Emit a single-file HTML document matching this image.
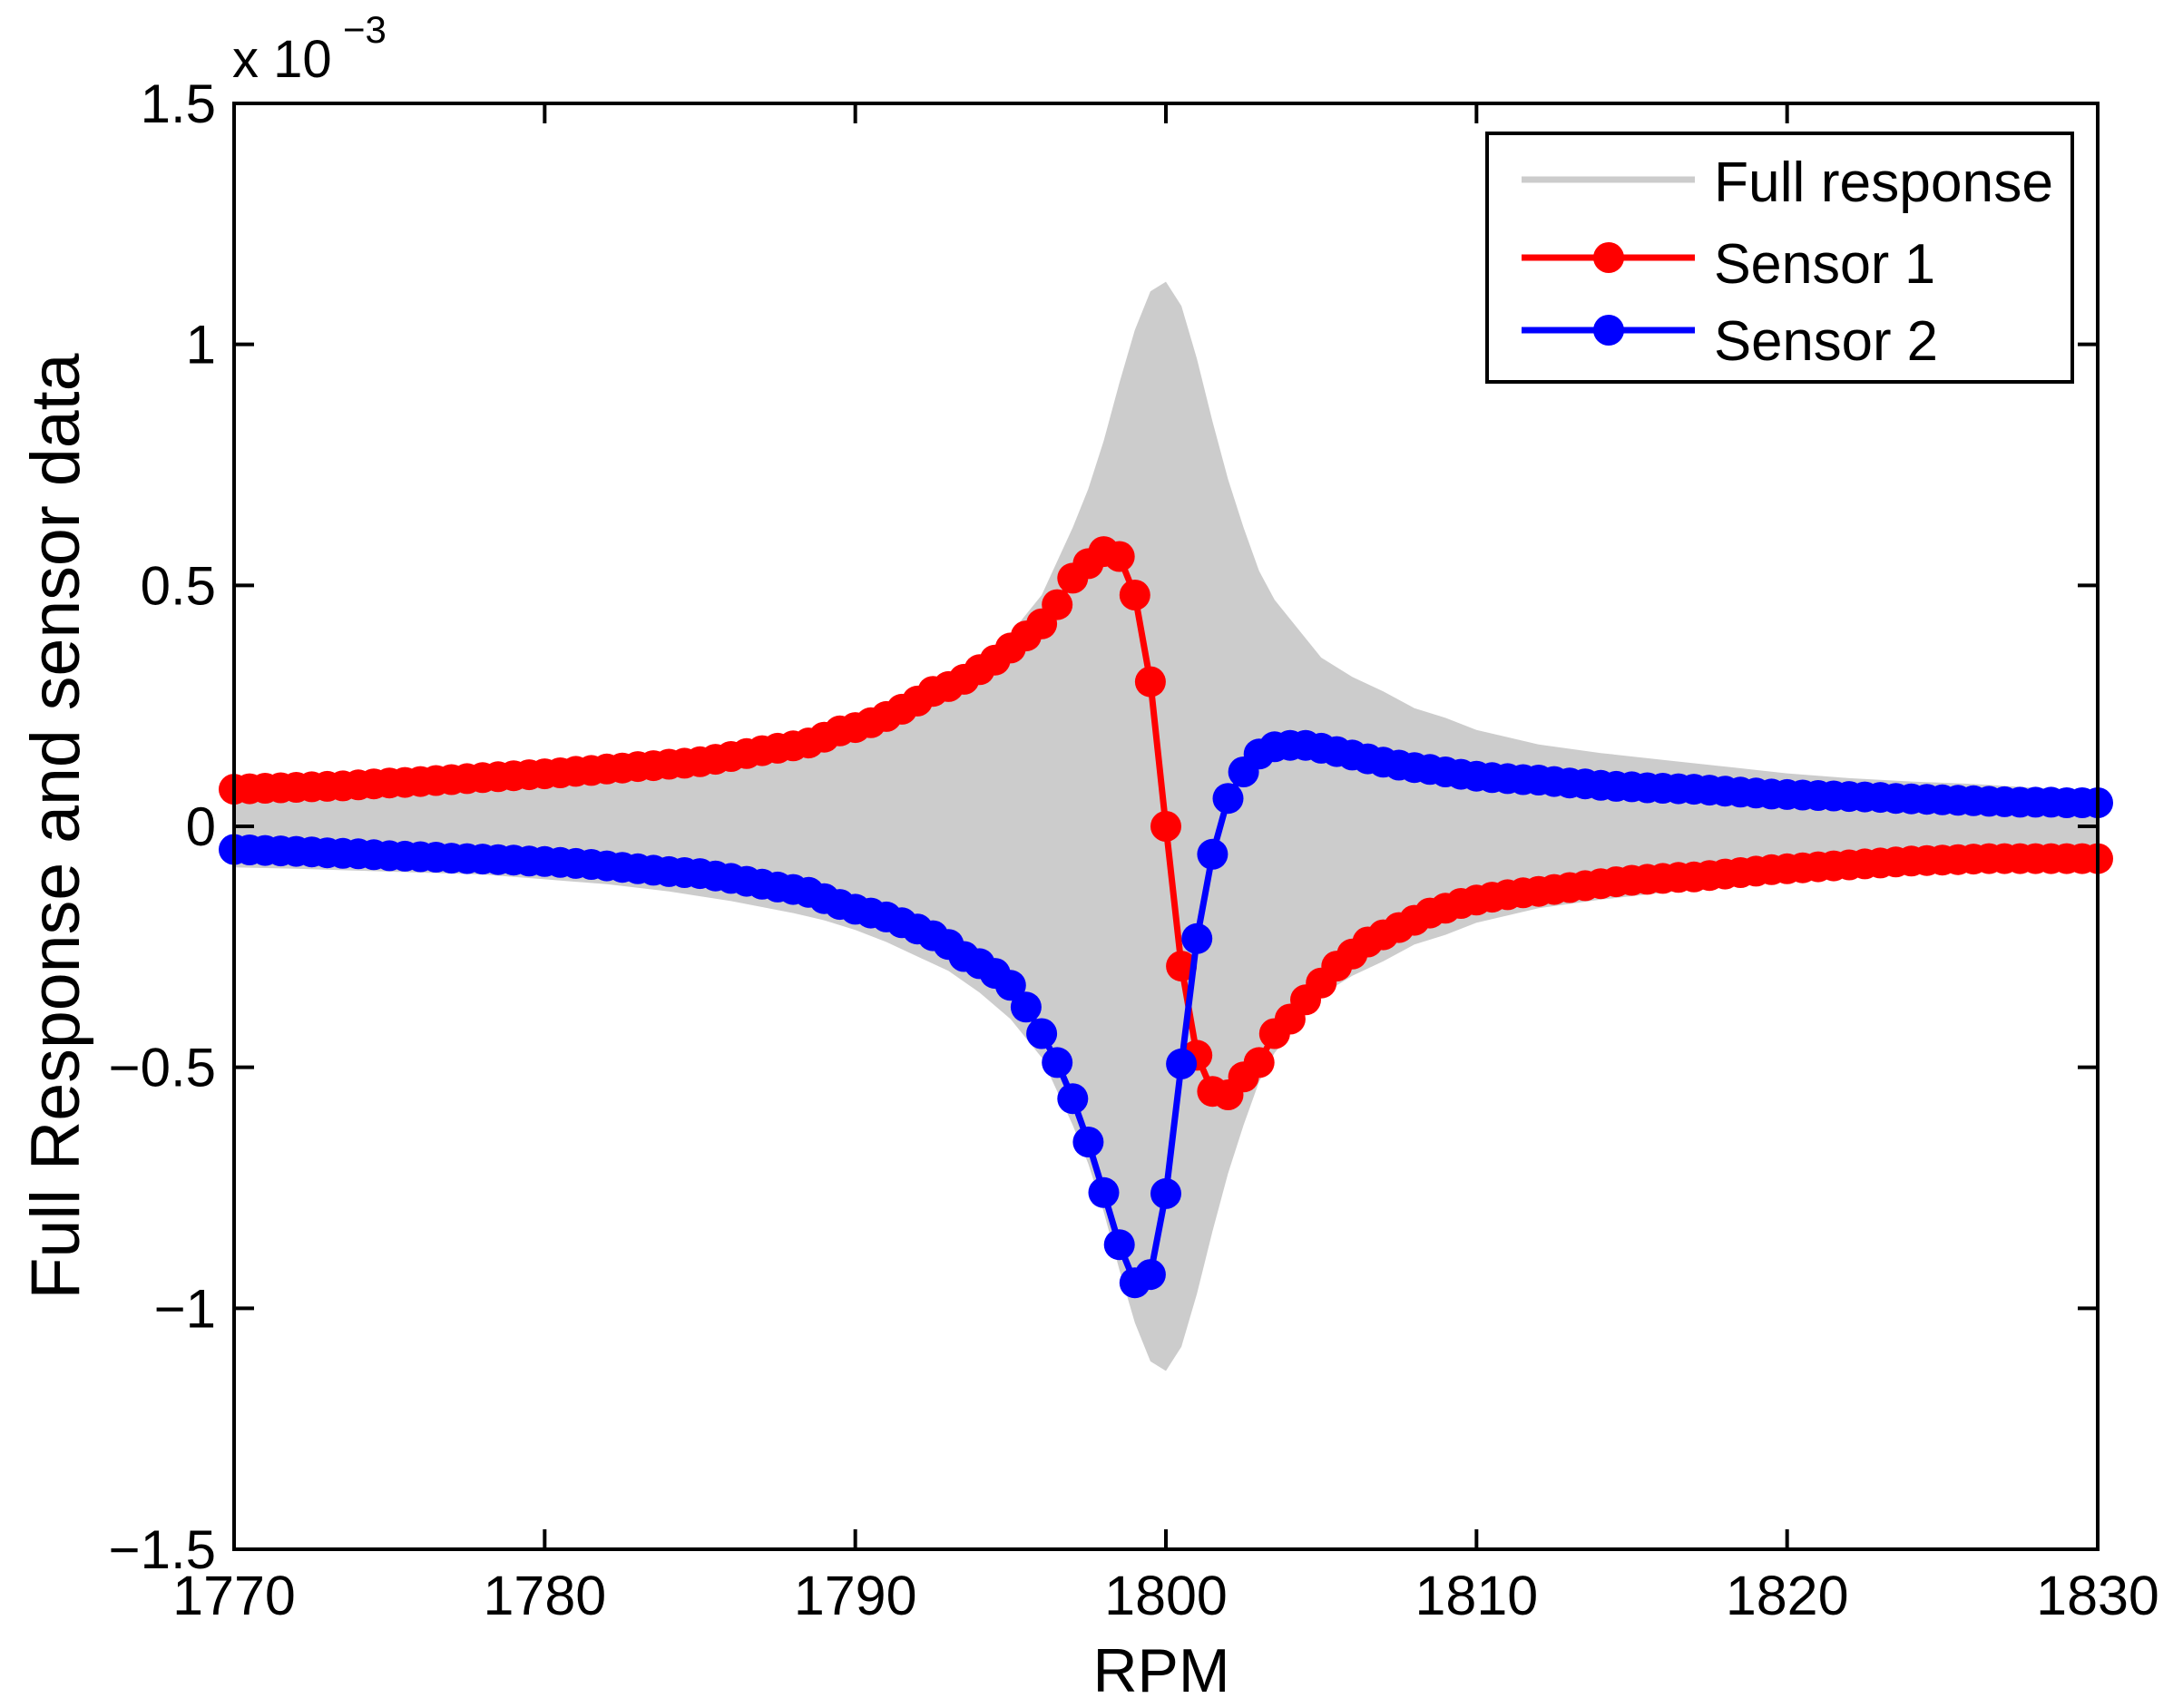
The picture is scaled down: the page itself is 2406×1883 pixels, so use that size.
<!DOCTYPE html>
<html><head><meta charset="utf-8">
<style>
html,body{margin:0;padding:0;background:#fff;}
svg{display:block;}
text{font-family:"Liberation Sans",Arial,sans-serif;fill:#000;}
</style></head>
<body>
<svg id="chart" width="2406" height="1883" viewBox="0 0 2406 1883" xmlns="http://www.w3.org/2000/svg">
  <rect x="0" y="0" width="2406" height="1883" fill="#fff"/>
  <g id="plot"></g>
  <g id="axes"></g>
  <text x="1280" y="1865" font-size="68" text-anchor="middle">RPM</text>
  <text transform="translate(87,911) rotate(-90)" font-size="76" text-anchor="middle" textLength="1043" lengthAdjust="spacingAndGlyphs">Full Response and sensor data</text>
  <g>
    <text x="256" y="85" font-size="58">x 10</text>
    <text x="378" y="47" font-size="42">−3</text>
  </g>
  <g>
    <rect x="1639" y="147" width="645" height="274" fill="#fff" stroke="#000" stroke-width="4"/>
    <g>
      <line x1="1677" y1="198" x2="1868" y2="198" stroke="#cccccc" stroke-width="7"/>
      <text x="1889" y="222" font-size="62" textLength="374" lengthAdjust="spacingAndGlyphs">Full response</text>
    </g>
    <g>
      <line x1="1677" y1="284" x2="1868" y2="284" stroke="#ff0000" stroke-width="7"/>
      <circle cx="1773" cy="284" r="17" fill="#ff0000"/>
      <text x="1889" y="312" font-size="62" textLength="244" lengthAdjust="spacingAndGlyphs">Sensor 1</text>
    </g>
    <g>
      <line x1="1677" y1="364" x2="1868" y2="364" stroke="#0000ff" stroke-width="7"/>
      <circle cx="1773" cy="364" r="17" fill="#0000ff"/>
      <text x="1889" y="397" font-size="62" textLength="247" lengthAdjust="spacingAndGlyphs">Sensor 2</text>
    </g>
  </g>
</svg>
<script>
// ---- data (values in units of 1e-3) ----
const rpmStart = 1770;
const rpmStep = 0.5;
const sensor1 = [
0.077,0.078,0.079,0.080,0.081,0.082,0.083,0.084,0.086,0.088,
0.090,0.091,0.093,0.095,0.097,0.099,0.101,0.103,0.105,0.107,
0.109,0.111,0.114,0.116,0.119,0.121,0.124,0.126,0.129,0.131,
0.134,0.139,0.145,0.151,0.157,0.162,0.167,0.173,0.185,0.198,
0.205,0.215,0.228,0.243,0.260,0.280,0.290,0.305,0.325,0.345,
0.370,0.395,0.420,0.460,0.515,0.545,0.570,0.560,0.480,0.300,
0.000,-0.290,-0.475,-0.550,-0.557,-0.520,-0.490,-0.430,-0.400,-0.360,
-0.325,-0.290,-0.265,-0.240,-0.225,-0.210,-0.195,-0.180,-0.170,-0.160,
-0.153,-0.147,-0.142,-0.138,-0.135,-0.131,-0.127,-0.123,-0.119,-0.115,
-0.112,-0.110,-0.108,-0.106,-0.105,-0.102,-0.099,-0.096,-0.093,-0.090,
-0.088,-0.086,-0.084,-0.082,-0.080,-0.078,-0.076,-0.074,-0.072,-0.071,
-0.070,-0.069,-0.068,-0.067,-0.067,-0.067,-0.067,-0.067,-0.067,-0.067,
-0.067];
const sensor2 = [
-0.048,-0.049,-0.050,-0.051,-0.052,-0.053,-0.055,-0.056,-0.057,-0.059,
-0.061,-0.062,-0.063,-0.064,-0.066,-0.067,-0.068,-0.069,-0.070,-0.072,
-0.073,-0.075,-0.077,-0.079,-0.082,-0.085,-0.088,-0.091,-0.094,-0.096,
-0.098,-0.103,-0.108,-0.114,-0.120,-0.126,-0.131,-0.137,-0.150,-0.162,
-0.172,-0.180,-0.188,-0.200,-0.213,-0.227,-0.245,-0.270,-0.285,-0.305,
-0.330,-0.375,-0.430,-0.490,-0.565,-0.655,-0.760,-0.868,-0.947,-0.930,
-0.762,-0.493,-0.233,-0.058,0.058,0.113,0.150,0.165,0.168,0.168,
0.162,0.155,0.148,0.140,0.133,0.127,0.122,0.118,0.113,0.108,
0.104,0.101,0.099,0.097,0.096,0.093,0.090,0.088,0.085,0.083,
0.082,0.080,0.079,0.078,0.077,0.075,0.073,0.071,0.069,0.067,
0.066,0.065,0.064,0.063,0.062,0.061,0.060,0.058,0.057,0.056,
0.055,0.054,0.053,0.052,0.051,0.050,0.050,0.050,0.049,0.049,
0.049];
const envelopeRpm = [1770,1772,1774,1776,1778,1780,1782,1784,1786,1788,1789,1790,1791,1792,1793,1794,1795,1796,1797,1797.5,1798,1798.5,1799,1799.5,1800,1800.5,1801,1801.5,1802,1802.5,1803,1803.5,1804,1805,1806,1807,1808,1809,1810,1812,1814,1816,1818,1820,1822,1824,1826,1828,1830];
const envelopeAmp = [0.085,0.088,0.092,0.096,0.100,0.110,0.120,0.135,0.155,0.180,0.195,0.215,0.240,0.270,0.300,0.345,0.400,0.480,0.620,0.700,0.800,0.920,1.030,1.110,1.130,1.080,0.970,0.840,0.720,0.620,0.530,0.470,0.430,0.350,0.310,0.280,0.245,0.225,0.200,0.170,0.152,0.138,0.124,0.110,0.100,0.093,0.088,0.080,0.075];
const xTicks = [1770,1780,1790,1800,1810,1820,1830];
const xTickLabels = ["1770","1780","1790","1800","1810","1820","1830"];
const yTicks = [-1.5,-1,-0.5,0,0.5,1,1.5];
const yTickLabels = ["\u22121.5","\u22121","\u22120.5","0","0.5","1","1.5"];

// ---- axes geometry ----
const L=258, R=2312, T=114, B=1708;
const xMin=1770, xMax=1830, yMin=-1.5, yMax=1.5;
function xs(v){return L+(v-xMin)/(xMax-xMin)*(R-L);}
function ys(v){return B-(v-yMin)/(yMax-yMin)*(B-T);}
const NS="http://www.w3.org/2000/svg";
function mk(tag,attrs,parent){const e=document.createElementNS(NS,tag);for(const k in attrs)e.setAttribute(k,attrs[k]);parent.appendChild(e);return e;}
const plotG=document.getElementById('plot');
const axesG=document.getElementById('axes');

// full response envelope
const envTopPts=[], envBotPts=[];
for(let i=0;i<envelopeRpm.length;i++){envTopPts.push(xs(envelopeRpm[i]).toFixed(1)+','+ys(envelopeAmp[i]).toFixed(1));}
for(let i=envelopeRpm.length-1;i>=0;i--){envBotPts.push(xs(envelopeRpm[i]).toFixed(1)+','+ys(-envelopeAmp[i]).toFixed(1));}
const env=mk('polygon',{points:envTopPts.concat(envBotPts).join(' '),fill:'#cccccc'},plotG);



function drawSeries(vals,color,name){
  const g=mk('g',{},plotG);
  
  
  const pts=vals.map((v,i)=>xs(rpmStart+i*rpmStep).toFixed(1)+','+ys(v).toFixed(1));
  const pl=mk('polyline',{points:pts.join(' '),fill:'none',stroke:color,'stroke-width':7,'stroke-linejoin':'round'},g);
  
  
  vals.forEach((v,i)=>{
    const c=mk('circle',{cx:xs(rpmStart+i*rpmStep).toFixed(1),cy:ys(v).toFixed(1),r:17,fill:color},g);
    
    
  });
}
drawSeries(sensor1,'#ff0000','sensor-1');
drawSeries(sensor2,'#0000ff','sensor-2');

// axes box
const box=mk('rect',{x:L,y:T,width:R-L,height:B-T,fill:'none',stroke:'#000','stroke-width':4},axesG);


const tl=22;
xTicks.forEach((v,i)=>{
  const x=xs(v);
  const t1=mk('line',{x1:x,y1:B,x2:x,y2:B-tl,stroke:'#000','stroke-width':4},axesG);
  
  
  const t2=mk('line',{x1:x,y1:T,x2:x,y2:T+tl,stroke:'#000','stroke-width':4},axesG);
  
  
  const lb=mk('text',{x:x,y:1780,'font-size':61,'text-anchor':'middle'},axesG);
  lb.textContent=xTickLabels[i];
  
  
});
yTicks.forEach((v,i)=>{
  const y=ys(v);
  const t1=mk('line',{x1:L,y1:y,x2:L+tl,y2:y,stroke:'#000','stroke-width':4},axesG);
  
  
  const t2=mk('line',{x1:R,y1:y,x2:R-tl,y2:y,stroke:'#000','stroke-width':4},axesG);
  
  
  const lb=mk('text',{x:238,y:y+21,'font-size':60,'text-anchor':'end'},axesG);
  lb.textContent=yTickLabels[i];
  
  
});
</script>
</body></html>
